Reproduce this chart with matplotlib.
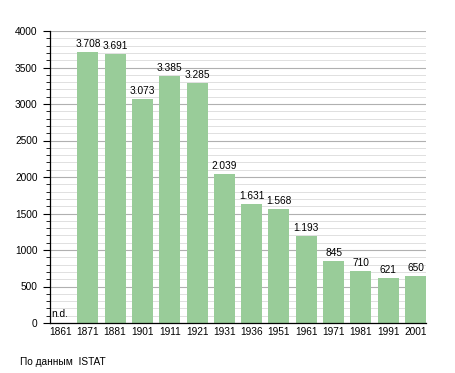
import matplotlib
matplotlib.use("Agg")
import matplotlib.pyplot as plt
from matplotlib.ticker import MultipleLocator

years = ["1861", "1871", "1881", "1901", "1911", "1921", "1931", "1936",
         "1951", "1961", "1971", "1981", "1991", "2001"]
population = [0, 3708, 3691, 3073, 3385, 3285, 2039, 1631, 1568, 1193, 845, 710, 621, 650]
labels = ["n.d.", "3.708", "3.691", "3.073", "3.385", "3.285", "2.039", "1.631",
          "1.568", "1.193", "845", "710", "621", "650"]

plt.rcParams['font.family'] = ['Liberation Sans', 'DejaVu Sans']
FS = 7.3

fig = plt.figure(figsize=(4.55, 3.73), dpi=100)
W, H = 455, 373
ax = fig.add_axes([50 / W, 1 - 323 / H, 376 / W, 292 / H])

w = 0.77
x = list(range(len(years)))
ax.bar(x, population, width=w, color="#99cc99", zorder=2)
ax.set_xlim(-w / 2, len(years) - 1 + w / 2)
ax.set_ylim(0, 4000)

ax.yaxis.set_major_locator(MultipleLocator(500))
ax.yaxis.set_minor_locator(MultipleLocator(100))
ax.grid(axis="y", which="major", color="#b0b0b0", linewidth=0.8, zorder=0)
ax.grid(axis="y", which="minor", color="#e0e0e0", linewidth=0.7, zorder=0)
ax.set_axisbelow(True)

ax.set_xticks(x)
ax.set_xticklabels(years, fontsize=FS)
ax.tick_params(axis="x", length=0, pad=3)
ax.tick_params(axis="y", which="major", length=5, width=0.8, labelsize=FS, pad=4)
ax.tick_params(axis="y", which="minor", length=3, width=0.6)

for s in ("top", "right"):
    ax.spines[s].set_visible(False)
for s in ("left", "bottom"):
    ax.spines[s].set_color("black")
    ax.spines[s].set_linewidth(0.9)

for xi, v, lab in zip(x, population, labels):
    if v == 0:
        ax.text(xi - w / 2 + 0.05, 50, lab, ha="left", va="bottom", fontsize=FS)
    else:
        ax.text(xi, v + 40, lab, ha="center", va="bottom", fontsize=FS)

fig.text(20 / W, 1 - 362 / H, "По данным  ISTAT", fontsize=FS, va="center", ha="left")

fig.savefig("out.png", dpi=100, facecolor="white")
